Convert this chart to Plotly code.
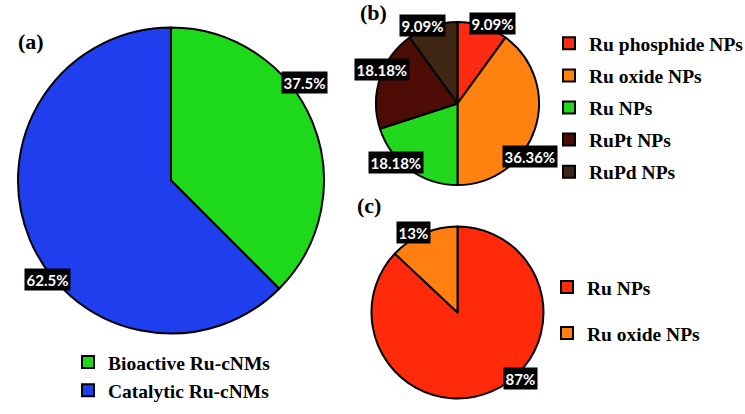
import plotly.graph_objects as go

# ---------------- data ----------------
a_labels = ["Bioactive Ru-cNMs", "Catalytic Ru-cNMs"]
a_values = [37.5, 62.5]

b_labels = ["Ru phosphide NPs", "Ru oxide NPs", "Ru NPs", "RuPt NPs", "RuPd NPs"]
b_values = [9.09, 36.36, 18.18, 18.18, 9.09]

c_labels = ["Ru NPs", "Ru oxide NPs"]
c_values = [87, 13]

# ---------------- styles ----------------
a_colors = ["#1ED81A", "#1F3FEF"]
b_colors = ["#FF2A12", "#FF8210", "#22D81C", "#4E0C06", "#3F2612"]
c_colors = ["#FF2A0A", "#FF8010"]

W, H = 745, 414
LEG_FONT = dict(family="Liberation Serif", size=19.5, color="black", weight="bold")
LBL_FONT = dict(family="Lato", size=15, color="white", weight="bold")


def fx(px):
    return px / W


def fy(py):
    return 1 - py / H


def px_dom(x0, x1, y0, y1):
    return dict(x=[fx(x0), fx(x1)], y=[fy(y1), fy(y0)])


def fmt(v):
    return f"{v:g}%"


fig = go.Figure()

line = dict(color="black", width=2)

fig.add_trace(go.Pie(
    labels=a_labels, values=a_values, sort=False, direction="clockwise", rotation=0,
    marker=dict(colors=a_colors, line=line), textinfo="none", hoverinfo="none",
    domain=px_dom(18, 324, 27.5, 333.5), legend="legend", showlegend=True,
))
fig.add_trace(go.Pie(
    labels=b_labels, values=b_values, sort=False, direction="clockwise", rotation=0,
    marker=dict(colors=b_colors, line=line), textinfo="none", hoverinfo="none",
    domain=px_dom(376, 539, 22, 185), showlegend=False,
))
fig.add_trace(go.Pie(
    labels=c_labels, values=c_values, sort=False, direction="clockwise", rotation=0,
    marker=dict(colors=c_colors, line=line), textinfo="none", hoverinfo="none",
    domain=px_dom(371.5, 543.5, 226.5, 398.5), showlegend=False,
))

# legend entries for (b) and (c), spaced like the original
for i, (lab, col) in enumerate(zip(b_labels, b_colors)):
    fig.add_trace(go.Scatter(
        x=[None], y=[None], mode="markers", name=lab, legend="legend2",
        legendgroup=f"b{i}", showlegend=True, hoverinfo="none",
        marker=dict(symbol="square", size=12, color=col, line=line),
    ))
for i, (lab, col) in enumerate(zip(c_labels, c_colors)):
    fig.add_trace(go.Scatter(
        x=[None], y=[None], mode="markers", name=lab, legend="legend3",
        legendgroup=f"c{i}", showlegend=True, hoverinfo="none",
        marker=dict(symbol="square", size=12, color=col, line=line),
    ))

# percentage labels (black boxes)
a_pos = [(304.5, 82.5), (47.5, 279)]
b_pos = [(492, 23), (530, 156.5), (396, 162.5), (381.5, 70), (422.5, 25.5)]
c_pos = [(520.5, 378), (413.5, 232)]

annotations = []
for vals, poss in ((a_values, a_pos), (b_values, b_pos), (c_values, c_pos)):
    for v, (px, py) in zip(vals, poss):
        annotations.append(dict(
            x=fx(px), y=fy(py), xref="paper", yref="paper", text=fmt(v),
            showarrow=False, font=LBL_FONT, bgcolor="black", borderpad=1.5,
            xanchor="center", yanchor="middle",
        ))

for txt, (px, py) in (("(a)", (31, 41)), ("(b)", (373.5, 12)), ("(c)", (368.5, 205))):
    annotations.append(dict(
        x=fx(px), y=fy(py), xref="paper", yref="paper", text=txt, showarrow=False,
        font=dict(family="Liberation Serif", size=22, color="black", weight="bold"),
        xanchor="center", yanchor="middle",
    ))

fig.update_layout(
    width=W, height=H,
    margin=dict(l=0, r=0, t=0, b=0, autoexpand=False),
    paper_bgcolor="white", plot_bgcolor="rgba(0,0,0,0)",
    xaxis=dict(visible=False), yaxis=dict(visible=False),
    annotations=annotations,
    legend=dict(x=fx(68), y=fy(342.8), xanchor="left", yanchor="top",
                font=LEG_FONT, bgcolor="rgba(0,0,0,0)", traceorder="normal"),
    legend2=dict(x=fx(549), y=fy(24.1), xanchor="left", yanchor="top",
                 font=LEG_FONT, bgcolor="rgba(0,0,0,0)", traceorder="grouped",
                 tracegroupgap=3.75),
    legend3=dict(x=fx(547), y=fy(267.8), xanchor="left", yanchor="top",
                 font=LEG_FONT, bgcolor="rgba(0,0,0,0)", traceorder="grouped",
                 tracegroupgap=17.7),
    showlegend=True,
)

# remove the browser's default 8px page margin so the figure fills the window
fig.write_html(
    "out.html",
    config={"displayModeBar": False},
    post_script="document.body.style.margin='0px';",
)
